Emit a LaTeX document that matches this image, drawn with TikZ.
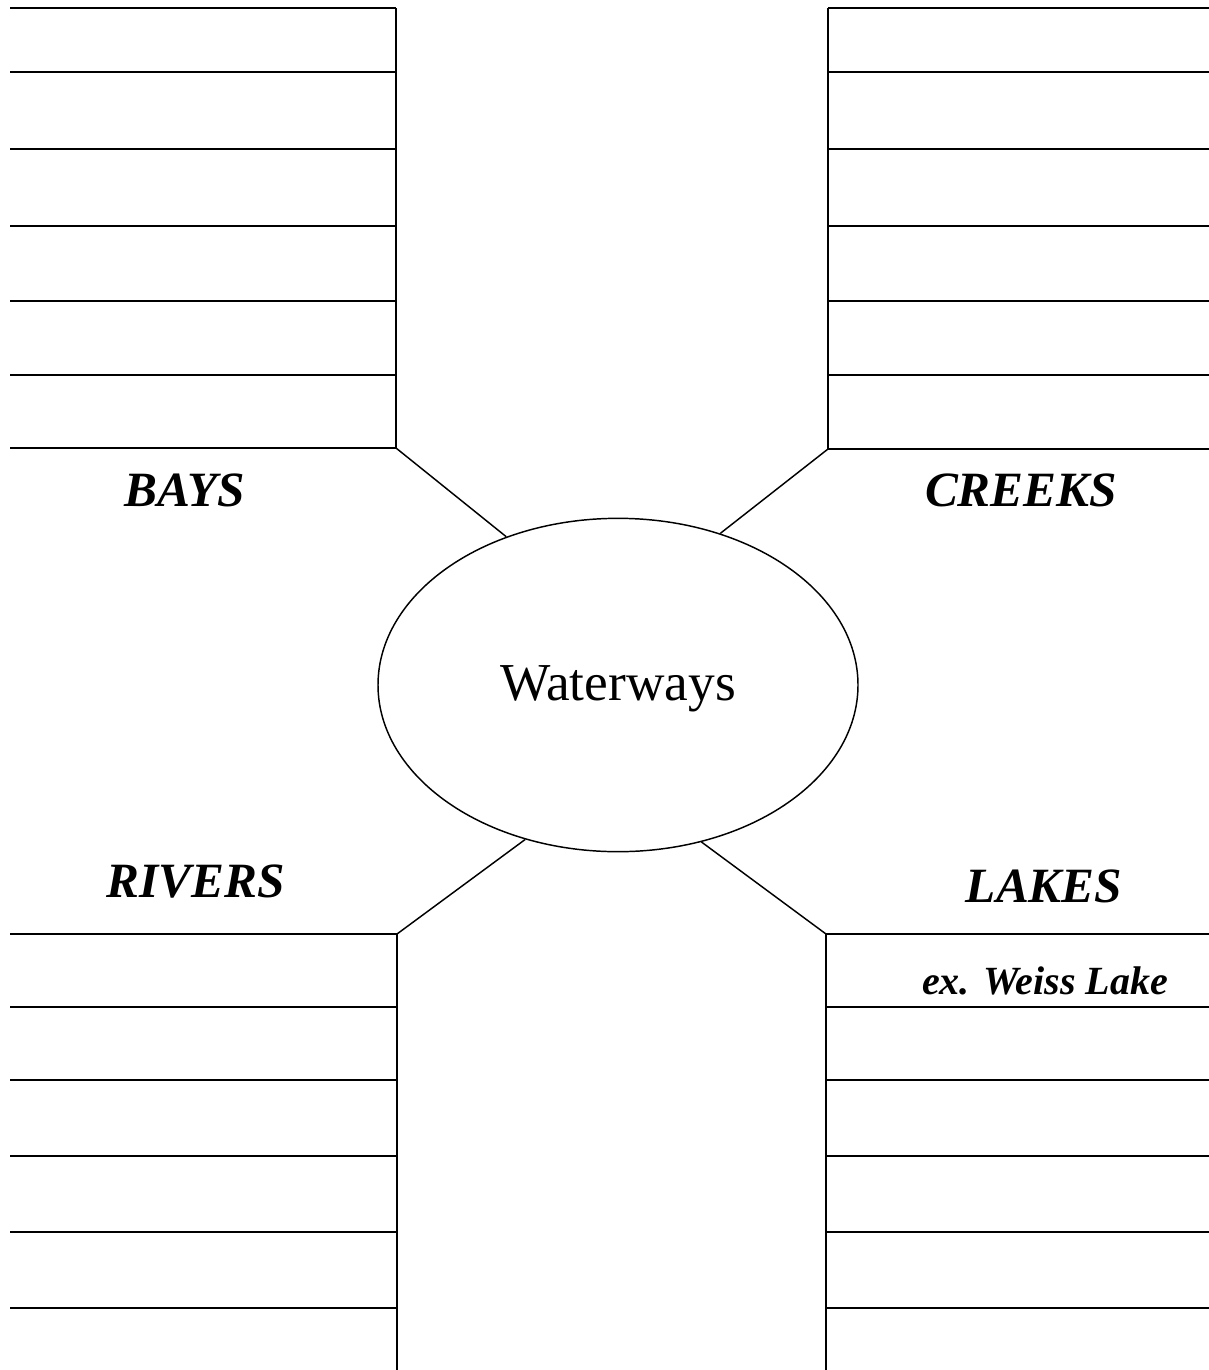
\documentclass[tikz,border=0pt]{standalone}
\usepackage{fontspec}
\setmainfont{Liberation Serif}
\usetikzlibrary{shapes.geometric}

\begin{document}
\begin{tikzpicture}[x=0.75pt, y=-0.75pt, line width=1.1pt]

    % 1. Khung trang va cac kieu chu
    \useasboundingbox (0, 0) rectangle (1209, 1370);
    \tikzset{
        heading/.style={font=\fontsize{37}{40}\selectfont\bfseries\itshape},
        example/.style={font=\fontsize{30}{33}\selectfont\bfseries\itshape},
        hubshape/.style={draw, ellipse, line width=1.1pt, inner sep=0,
            minimum width=360pt, minimum height=250pt,
            font=\fontsize{40}{44}\selectfont}
    }

    % 2. Hinh elip o giua
    \node[hubshape] (hub) at (618, 685) {};
    \node[font=\fontsize{40}{44}\selectfont] (hubname) at (618, 689) {Waterways};

    % 3. Cac dong ke o goc tren
    \foreach \y in {8, 72, 149, 226, 301, 375} {
        \draw (10, \y) -- (396, \y);
        \draw (828, \y) -- (1209, \y);
    }
    \draw (10, 448) -- (396, 448) -- (396, 8);
    \draw (1209, 449) -- (828, 449) -- (828, 8);

    % 4. Cac dong ke o goc duoi
    \foreach \y in {1007, 1080, 1156, 1232, 1308} {
        \draw (10, \y) -- (397, \y);
        \draw (826, \y) -- (1209, \y);
    }
    \draw (10, 934) -- (397, 934) -- (397, 1370);
    \draw (1209, 934) -- (826, 934) -- (826, 1370);

    % 5. Cac goc noi voi elip
    \coordinate (bays) at (396, 448);
    \coordinate (creeks) at (828, 449);
    \coordinate (rivers) at (397, 934);
    \coordinate (lakes) at (826, 934);
    \draw (bays) -- (hub.127);
    \draw (creeks) -- (hub.56);
    \draw (rivers) -- (hub.239);
    \draw (lakes) -- (hub.298);

    % 6. Cac nhan
    \node[heading] (baysname) at (185, 490) {BAYS};
    \node[heading] (creeksname) at (1021, 490) {CREEKS};
    \node[heading] (riversname) at (196, 882) {RIVERS};
    \node[heading] (lakesname) at (1044, 886) {LAKES};
    \node[example] (lakesex) at (1045, 981) {ex. Weiss Lake};

\end{tikzpicture}
\end{document}
